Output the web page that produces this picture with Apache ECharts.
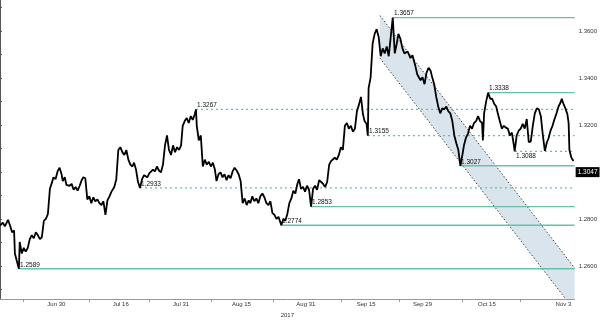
<!DOCTYPE html>
<html><head><meta charset="utf-8">
<script src="https://cdn.jsdelivr.net/npm/echarts@6/dist/echarts.min.js"></script>
<style>html,body{margin:0;padding:0;background:#fff}#c{width:600px;height:323px}</style>
</head><body><div id="c"></div>
<script>
// days since Jun 16 2017
const days = [0.0,0.7,1.2,2.0,2.5,3.0,3.5,3.7,4.2,4.7,4.9,5.4,5.9,6.4,6.9,7.4,7.9,8.4,8.9,9.4,9.9,10.4,10.9,11.4,11.9,12.1,12.4,12.8,13.3,13.8,14.3,14.8,15.3,15.6,16.1,16.5,17.3,17.8,18.3,18.8,19.3,19.8,20.3,20.7,21.2,21.7,22.2,22.7,23.2,23.7,24.2,24.7,25.2,25.7,26.2,26.7,27.2,27.7,28.4,28.9,29.4,29.9,30.4,30.9,31.4,31.9,32.4,32.9,33.3,33.8,34.3,34.8,35.3,35.8,36.6,37.1,37.5,38.0,38.5,39.0,39.5,40.0,40.5,41.0,41.5,42.0,42.5,43.0,43.5,44.0,44.5,45.0,45.4,45.9,46.4,46.9,47.4,47.9,48.4,48.7,48.9,49.4,49.9,50.4,50.9,51.4,51.9,52.4,52.9,53.4,53.8,54.3,54.8,55.3,55.8,56.3,56.8,57.3,57.8,58.3,58.8,59.3,59.8,60.3,60.8,61.3,61.8,62.2,62.7,63.2,63.7,64.2,64.7,65.2,65.7,66.2,66.7,67.2,67.7,68.2,68.7,69.2,69.7,69.9,70.4,70.9,71.4,71.9,72.4,72.9,73.4,73.9,74.3,74.8,75.3,75.8,76.3,76.8,77.3,77.8,78.3,78.8,79.3,79.8,80.3,80.8,81.3,81.8,82.3,82.7,83.2,83.7,84.2,84.7,85.2,85.7,86.2,86.7,87.2,87.7,88.2,88.7,89.2,89.7,90.2,90.6,91.1,91.4,91.6,92.1,92.6,93.1,93.6,94.1,94.6,95.1,95.6,96.1,96.6,97.1,97.6,98.1,98.6,99.0,99.5,100.0,100.5,101.3,102.0,102.5,103.2,103.7,104.5,105.0,105.5,106.0,106.5,107.0,107.4,107.9,108.4,108.9,109.4,109.9,110.4,110.9,111.4,111.9,112.4,112.9,113.4,113.9,114.4,114.9,115.3,115.8,116.3,116.8,117.3,117.8,118.3,118.8,119.3,119.8,120.0,120.3,120.8,121.3,121.8,122.3,122.8,123.3,123.7,124.2,124.7,125.2,125.7,126.2,126.7,127.2,127.7,127.9,128.4,128.9,129.4,129.9,130.4,130.9,131.4,131.9,132.4,132.9,133.4,133.9,134.4,134.9,135.4,135.9,136.3,136.8,137.3,137.8,138.3,138.8,139.3,139.6,140.0,140.5,141.0,141.3,141.5,142.0,142.5];
const prices = [1.2773,1.2785,1.2769,1.2797,1.2773,1.2744,1.2752,1.2654,1.2621,1.2589,1.2703,1.2654,1.2678,1.2662,1.2678,1.2715,1.2732,1.2719,1.2744,1.2732,1.2715,1.2723,1.2793,1.2801,1.2822,1.2830,1.2929,1.2950,1.2978,1.2970,1.3003,1.3019,1.2991,1.2962,1.2978,1.2946,1.2942,1.2950,1.2925,1.2937,1.2921,1.2942,1.2966,1.2978,1.2974,1.2884,1.2897,1.2868,1.2893,1.2876,1.2884,1.2868,1.2860,1.2876,1.2818,1.2880,1.2897,1.2917,1.2937,1.2970,1.3094,1.3106,1.3085,1.3073,1.3094,1.3053,1.3032,1.3024,1.3040,1.3011,1.2958,1.2933,1.2970,1.2987,1.2978,1.2995,1.2987,1.3011,1.3003,1.3024,1.3007,1.2999,1.3032,1.3114,1.3156,1.3094,1.3073,1.3114,1.3085,1.3106,1.3094,1.3114,1.3197,1.3217,1.3230,1.3209,1.3238,1.3222,1.3246,1.3267,1.3197,1.3135,1.3156,1.3024,1.3053,1.3032,1.3044,1.3024,1.3040,1.3011,1.2962,1.2991,1.2999,1.2978,1.2991,1.2966,1.2987,1.2974,1.3003,1.3019,1.3007,1.2991,1.2962,1.2868,1.2888,1.2860,1.2880,1.2868,1.2897,1.2876,1.2888,1.2868,1.2897,1.2909,1.2893,1.2868,1.2860,1.2876,1.2826,1.2818,1.2801,1.2810,1.2785,1.2774,1.2801,1.2793,1.2822,1.2868,1.2888,1.2921,1.2909,1.2950,1.2970,1.2929,1.2937,1.2917,1.2942,1.2925,1.2853,1.2929,1.2942,1.2925,1.2966,1.2958,1.2950,1.2937,1.2958,1.3032,1.3048,1.3040,1.3061,1.3053,1.3073,1.3106,1.3094,1.3197,1.3209,1.3185,1.3197,1.3172,1.3185,1.3259,1.3287,1.3320,1.3246,1.3217,1.3205,1.3155,1.3357,1.3403,1.3547,1.3588,1.3608,1.3575,1.3493,1.3526,1.3505,1.3534,1.3493,1.3575,1.3657,1.3505,1.3547,1.3588,1.3567,1.3526,1.3505,1.3513,1.3485,1.3497,1.3452,1.3415,1.3391,1.3403,1.3374,1.3423,1.3444,1.3431,1.3403,1.3374,1.3320,1.3279,1.3250,1.3271,1.3267,1.3279,1.3259,1.3250,1.3217,1.3156,1.3123,1.3094,1.3027,1.3073,1.3114,1.3147,1.3164,1.3197,1.3185,1.3209,1.3217,1.3238,1.3217,1.3209,1.3135,1.3250,1.3300,1.3338,1.3312,1.3312,1.3291,1.3279,1.3250,1.3217,1.3185,1.3197,1.3189,1.3185,1.3156,1.3168,1.3114,1.3088,1.3156,1.3176,1.3185,1.3205,1.3185,1.3226,1.3127,1.3131,1.3197,1.3250,1.3271,1.3267,1.3238,1.3156,1.3090,1.3127,1.3143,1.3176,1.3197,1.3226,1.3250,1.3279,1.3296,1.3312,1.3291,1.3271,1.3246,1.3209,1.3094,1.3061,1.3047];

const xLabelDays = [14,30,45,60,76,91,105,121,140];
const xLabels = ['Jun 30','Jul 16','Jul 31','Aug 15','Aug 31','Sep 15','Sep 29','Oct 15','Nov 3'];
const xSeparatorDays = [5.7,22.2,37,52.4,68,84.7,99.3,114.9,129.2];
const yLabelValues = [1.26,1.28,1.30,1.32,1.34,1.36];
const yTickValues = [1.25,1.26,1.27,1.28,1.29,1.30,1.31,1.32,1.33,1.34,1.35,1.36,1.37];

const levels = [1.3657,1.3338,1.3267,1.3155,1.3088,1.3027,1.2933,1.2853,1.2774,1.2589];
const levelStartDays = [97.6,121.3,48.7,91.4,127.9,114.4,34.8,77.3,69.9,4.7];
const levelDashed = [false,false,true,true,true,false,true,false,false,false];
const levelLabelBelow = [false,false,false,false,true,false,false,false,false,false];

const channelUpper = [[94.4,1.3666],[142.8,1.2592]];
const channelLower = [[94.4,1.3485],[142.8,1.2411]];
const lastPrice = 1.3047;
const yearLabel = '2017';

const X_MIN = 0, X_MAX = 142.8, Y_MIN = 1.2460, Y_MAX = 1.3732;
const FONT = 'Liberation Sans';
const LEVEL_COLOR = '#62c3a9';

const chart = echarts.init(document.getElementById('c'), null, {renderer: 'canvas'});

const option = {
  animation: false,
  backgroundColor: '#fff',
  grid: {left: 0, right: 22, top: 0, bottom: 14, containLabel: false},
  xAxis: {
    type: 'value', min: X_MIN, max: X_MAX,
    name: yearLabel, nameLocation: 'middle', nameGap: 9,
    nameTextStyle: {fontSize: 6, fontFamily: FONT, color: '#333'},
    axisLine: {show: true, lineStyle: {color: '#999', width: 1}},
    axisTick: {show: true, customValues: xSeparatorDays, length: 3, lineStyle: {color: '#999'}},
    axisLabel: {
      show: true, customValues: xLabelDays, fontSize: 6, fontFamily: FONT, color: '#333', margin: 2,
      formatter: v => { const k = xLabelDays.indexOf(v); return k >= 0 ? xLabels[k] : ''; }
    },
    splitLine: {show: false}
  },
  yAxis: {
    type: 'value', position: 'right', min: Y_MIN, max: Y_MAX,
    axisLine: {show: true, lineStyle: {color: '#555', width: 1}},
    axisTick: {show: true, customValues: yTickValues, length: 2, lineStyle: {color: '#555'}},
    axisLabel: {
      show: true, customValues: yLabelValues, fontSize: 6, fontFamily: FONT, color: '#333', margin: 4,
      formatter: v => v.toFixed(4)
    },
    splitLine: {show: false}
  },
  series: [
    {
      type: 'custom', z: 1, clip: true, silent: true,
      data: [channelUpper[0]],
      renderItem: (params, api) => {
        const u0 = api.coord(channelUpper[0]), u1 = api.coord(channelUpper[1]);
        const l0 = api.coord(channelLower[0]), l1 = api.coord(channelLower[1]);
        return {
          type: 'group',
          children: [
            {type: 'polygon', shape: {points: [u0, u1, l1, l0]}, style: {fill: '#d9e4ec', stroke: null}},
            {type: 'line', shape: {x1: u0[0], y1: u0[1], x2: u1[0], y2: u1[1]}, style: {stroke: '#444', lineWidth: 1, lineDash: [1.5, 2]}},
            {type: 'line', shape: {x1: l0[0], y1: l0[1], x2: l1[0], y2: l1[1]}, style: {stroke: '#444', lineWidth: 1, lineDash: [1.5, 2]}}
          ]
        };
      }
    },
    {
      type: 'custom', z: 2, clip: false, silent: true,
      data: levels.map((lv, i) => [levelStartDays[i], lv]),
      renderItem: (params, api) => {
        const i = params.dataIndex;
        const p0 = api.coord([api.value(0), api.value(1)]);
        const p1 = api.coord([X_MAX, api.value(1)]);
        const y = p0[1];
        const x0 = Math.round(p0[0]);
        const below = levelLabelBelow[i];
        return {
          type: 'group',
          children: [
            {type: 'line', shape: {x1: x0, y1: y, x2: p1[0], y2: y},
             style: {stroke: LEVEL_COLOR, lineWidth: 1.3, lineDash: levelDashed[i] ? [2, 3] : null}},
            {type: 'text', x: x0 + 1, y: below ? y + 1 : y - 0.5,
             style: {text: levels[i].toFixed(4), fill: '#111', font: '6.5px "Liberation Sans"',
                     textAlign: 'left', textVerticalAlign: below ? 'top' : 'bottom'}}
          ]
        };
      }
    },
    {
      type: 'line', z: 3,
      data: days.map((d, i) => [d, prices[i]]),
      showSymbol: false, symbol: 'none',
      lineStyle: {color: '#000', width: 1.8},
      markLine: {
        z: 4, silent: true, symbol: ['none', 'none'],
        lineStyle: {color: 'rgba(0,0,0,0)', width: 0},
        label: {
          show: true, position: 'end', formatter: lastPrice.toFixed(4),
          color: '#fff', backgroundColor: '#000', fontSize: 6.5, fontFamily: FONT,
          padding: [2, 2, 1, 2], distance: 1
        },
        data: [{yAxis: lastPrice}]
      }
    }
  ]
};
chart.setOption(option);
</script>
</body></html>
